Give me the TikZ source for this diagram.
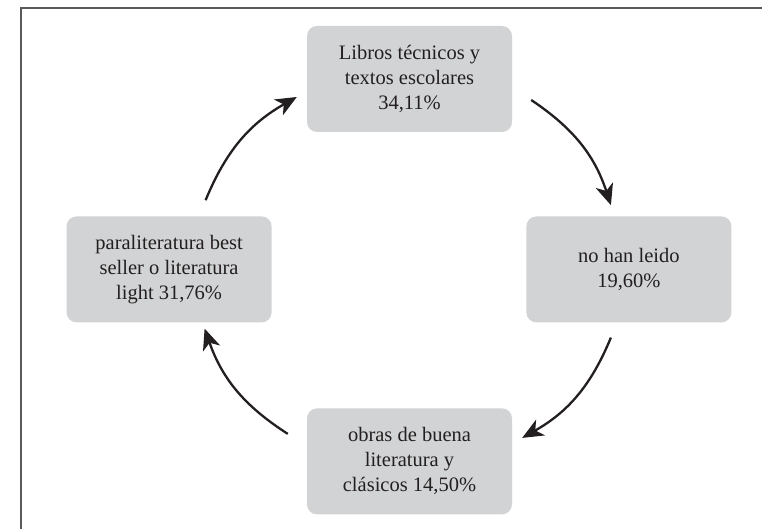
\documentclass[tikz,border=0pt]{standalone}
\usepackage{fontspec}
\setmainfont{Liberation Serif}
\usetikzlibrary{arrows.meta, positioning}
\definecolor{boxgray}{RGB}{209,211,212}
\definecolor{inkdark}{RGB}{35,31,32}
\definecolor{framegray}{RGB}{90,90,90}

\begin{document}
\begin{tikzpicture}[x=1pt, y=1pt, node distance=84pt and 35pt,
    every node/.style={font=\fontsize{20.5}{25}\selectfont, text=inkdark},
    share/.style={rectangle, rounded corners=10pt, fill=boxgray, minimum width=205pt, minimum height=106pt, text centered, align=center},
    arrow/.style={-{Stealth[length=21pt, width=18pt, inset=6pt]}, line width=2.3pt, draw=inkdark, bend left=19}]

\useasboundingbox (0,0) rectangle (762,529);

% Frame
\draw[framegray, line width=1.4pt] (21,0) -- (21,521) -- (762,521);

% Boxes
\node[share] (tecnicos) at (409.5,450) {Libros técnicos y\\ textos escolares\\ 34,11\%};
\node[share, below left=84pt and 35pt of tecnicos] (light) {paraliteratura best\\ seller o literatura\\ light 31,76\%};
\node[share, below right=84pt and 14pt of tecnicos] (noleido) {no han leido\\ 19,60\%};
\node[share, below=276pt of tecnicos] (clasicos) {obras de buena\\ literatura y\\ clásicos 14,50\%};

% Arrows
\draw[arrow] ([xshift=36.5pt, yshift=16pt]light.north) to ([xshift=-10pt, yshift=-18pt]tecnicos.west);
\draw[arrow] ([xshift=19pt, yshift=-21pt]tecnicos.east) to ([xshift=-18pt, yshift=11pt]noleido.north);
\draw[arrow] ([xshift=-18pt, yshift=-15pt]noleido.south) to ([xshift=10pt, yshift=23.5pt]clasicos.east);
\draw[arrow] ([xshift=-19pt, yshift=27.5pt]clasicos.west) to ([xshift=35.5pt, yshift=-6pt]light.south);

\end{tikzpicture}
\end{document}
